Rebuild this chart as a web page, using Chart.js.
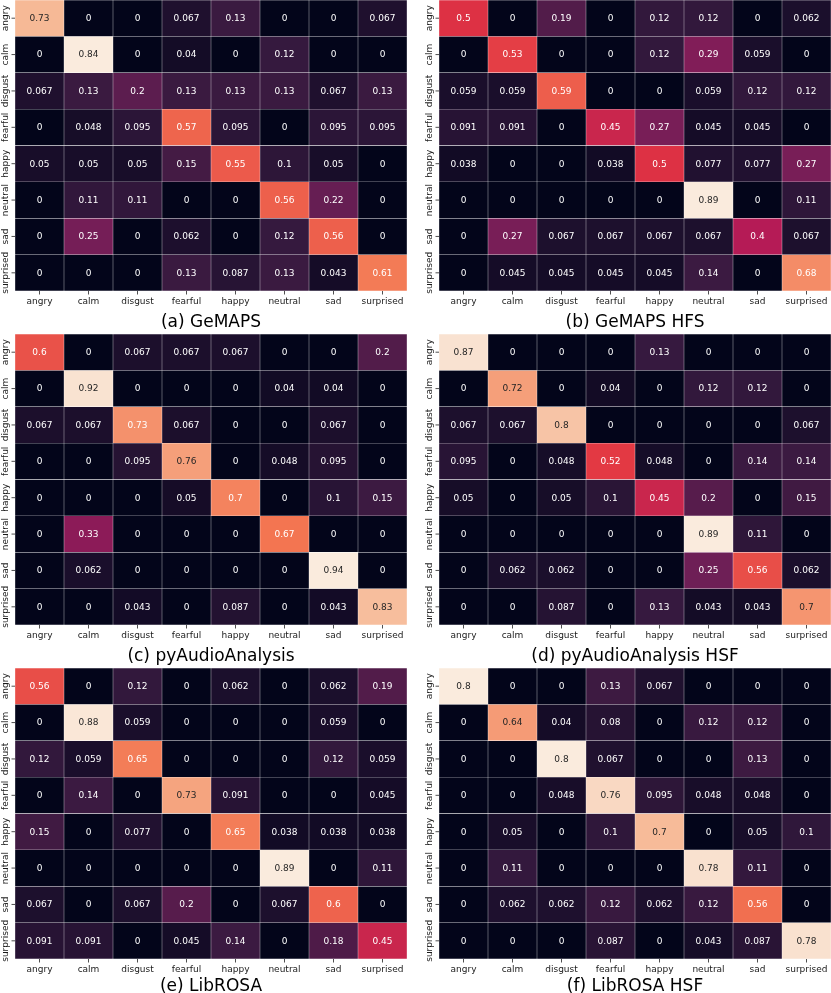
<!DOCTYPE html>
<html>
<head>
<meta charset="utf-8">
<script src="https://cdn.jsdelivr.net/npm/chart.js@4.4.0/dist/chart.umd.min.js"></script>
<style>
  body { margin: 0; background: #fff; }
  #fig { position: relative; width: 831px; height: 993px; overflow: hidden; font-family: "DejaVu Sans", sans-serif; }
  .panel { position: absolute; }
  .caption { position: absolute; font-size: 17px; line-height: 20px; color: #000; white-space: nowrap; transform: translateX(-50%); }
</style>
</head>
<body>
<div id="fig"></div>
<script>
const emotions = ["angry", "calm", "disgust", "fearful", "happy", "neutral", "sad", "surprised"];

// rows = true class, columns = predicted class
const gemaps = [
  [0.73, 0, 0, 0.067, 0.13, 0, 0, 0.067],
  [0, 0.84, 0, 0.04, 0, 0.12, 0, 0],
  [0.067, 0.13, 0.2, 0.13, 0.13, 0.13, 0.067, 0.13],
  [0, 0.048, 0.095, 0.57, 0.095, 0, 0.095, 0.095],
  [0.05, 0.05, 0.05, 0.15, 0.55, 0.1, 0.05, 0],
  [0, 0.11, 0.11, 0, 0, 0.56, 0.22, 0],
  [0, 0.25, 0, 0.062, 0, 0.12, 0.56, 0],
  [0, 0, 0, 0.13, 0.087, 0.13, 0.043, 0.61]
];
const gemapsHfs = [
  [0.5, 0, 0.19, 0, 0.12, 0.12, 0, 0.062],
  [0, 0.53, 0, 0, 0.12, 0.29, 0.059, 0],
  [0.059, 0.059, 0.59, 0, 0, 0.059, 0.12, 0.12],
  [0.091, 0.091, 0, 0.45, 0.27, 0.045, 0.045, 0],
  [0.038, 0, 0, 0.038, 0.5, 0.077, 0.077, 0.27],
  [0, 0, 0, 0, 0, 0.89, 0, 0.11],
  [0, 0.27, 0.067, 0.067, 0.067, 0.067, 0.4, 0.067],
  [0, 0.045, 0.045, 0.045, 0.045, 0.14, 0, 0.68]
];
const pyAudio = [
  [0.6, 0, 0.067, 0.067, 0.067, 0, 0, 0.2],
  [0, 0.92, 0, 0, 0, 0.04, 0.04, 0],
  [0.067, 0.067, 0.73, 0.067, 0, 0, 0.067, 0],
  [0, 0, 0.095, 0.76, 0, 0.048, 0.095, 0],
  [0, 0, 0, 0.05, 0.7, 0, 0.1, 0.15],
  [0, 0.33, 0, 0, 0, 0.67, 0, 0],
  [0, 0.062, 0, 0, 0, 0, 0.94, 0],
  [0, 0, 0.043, 0, 0.087, 0, 0.043, 0.83]
];
const pyAudioHsf = [
  [0.87, 0, 0, 0, 0.13, 0, 0, 0],
  [0, 0.72, 0, 0.04, 0, 0.12, 0.12, 0],
  [0.067, 0.067, 0.8, 0, 0, 0, 0, 0.067],
  [0.095, 0, 0.048, 0.52, 0.048, 0, 0.14, 0.14],
  [0.05, 0, 0.05, 0.1, 0.45, 0.2, 0, 0.15],
  [0, 0, 0, 0, 0, 0.89, 0.11, 0],
  [0, 0.062, 0.062, 0, 0, 0.25, 0.56, 0.062],
  [0, 0, 0.087, 0, 0.13, 0.043, 0.043, 0.7]
];
const librosa = [
  [0.56, 0, 0.12, 0, 0.062, 0, 0.062, 0.19],
  [0, 0.88, 0.059, 0, 0, 0, 0.059, 0],
  [0.12, 0.059, 0.65, 0, 0, 0, 0.12, 0.059],
  [0, 0.14, 0, 0.73, 0.091, 0, 0, 0.045],
  [0.15, 0, 0.077, 0, 0.65, 0.038, 0.038, 0.038],
  [0, 0, 0, 0, 0, 0.89, 0, 0.11],
  [0.067, 0, 0.067, 0.2, 0, 0.067, 0.6, 0],
  [0.091, 0.091, 0, 0.045, 0.14, 0, 0.18, 0.45]
];
const librosaHsf = [
  [0.8, 0, 0, 0.13, 0.067, 0, 0, 0],
  [0, 0.64, 0.04, 0.08, 0, 0.12, 0.12, 0],
  [0, 0, 0.8, 0.067, 0, 0, 0.13, 0],
  [0, 0, 0.048, 0.76, 0.095, 0.048, 0.048, 0],
  [0, 0.05, 0, 0.1, 0.7, 0, 0.05, 0.1],
  [0, 0.11, 0, 0, 0, 0.78, 0.11, 0],
  [0, 0.062, 0.062, 0.12, 0.062, 0.12, 0.56, 0],
  [0, 0, 0, 0.087, 0, 0.043, 0.087, 0.78]
];

const captions = ["(a) GeMAPS", "(b) GeMAPS HFS", "(c) pyAudioAnalysis", "(d) pyAudioAnalysis HSF", "(e) LibROSA", "(f) LibROSA HSF"];
const matrices = [gemaps, gemapsHfs, pyAudio, pyAudioHsf, librosa, librosaHsf];

// layout
const colLeft = [0, 424];
const rowTop = [0, 334, 668];
const captionY = [311, 645, 975];
const canvasW = 415, canvasH = 321, padL = 15, padR = 8;
const FONT = "DejaVu Sans";

// seaborn "rocket" approximated by its sampled palette
const rocketStops = [
  [3, 5, 26], [53, 25, 62], [112, 31, 87], [173, 23, 89],
  [225, 51, 66], [243, 118, 81], [246, 180, 143], [250, 235, 221]
];

function rocket(t) {
  t = Math.max(0, Math.min(1, t));
  const pos = t * (rocketStops.length - 1);
  const i = Math.min(Math.floor(pos), rocketStops.length - 2);
  const f = pos - i;
  const a = rocketStops[i], b = rocketStops[i + 1];
  return a.map((c, k) => Math.round(c + (b[k] - c) * f));
}

function luminance(rgb) {
  const lin = rgb.map(c => {
    c = c / 255;
    return c <= 0.03928 ? c / 12.92 : Math.pow((c + 0.055) / 1.055, 2.4);
  });
  return 0.2126 * lin[0] + 0.7152 * lin[1] + 0.0722 * lin[2];
}

function fmt2g(v) {
  if (v === 0) return "0";
  return String(parseFloat(v.toPrecision(2)));
}

const cellLabels = {
  id: "cellLabels",
  afterDatasetsDraw(chart, args, opts) {
    const ctx = chart.ctx;
    const m = opts.matrix, vmax = opts.vmax;
    if (!m) return;
    ctx.save();
    ctx.font = `9px "${FONT}"`;
    ctx.textAlign = "center";
    ctx.textBaseline = "middle";
    chart.data.datasets.forEach((ds, r) => {
      chart.getDatasetMeta(r).data.forEach((bar, c) => {
        const v = m[r][c];
        const p = bar.getProps(["x", "y", "base"], true);
        ctx.fillStyle = luminance(rocket(v / vmax)) > 0.408 ? "#262626" : "#ffffff";
        ctx.fillText(fmt2g(v), p.x, (p.y + p.base) / 2 + 0.5);
      });
    });
    ctx.restore();
  }
};

const rowLabels = {
  id: "rowLabels",
  afterDraw(chart) {
    const ctx = chart.ctx;
    const y = chart.scales.y;
    const left = chart.chartArea.left;
    ctx.save();
    ctx.strokeStyle = "#222";
    ctx.lineWidth = 0.8;
    ctx.fillStyle = "#1a1a1a";
    ctx.font = `9px "${FONT}"`;
    ctx.textAlign = "center";
    ctx.textBaseline = "middle";
    emotions.forEach((name, r) => {
      const py = y.getPixelForValue(r + 0.5);
      ctx.beginPath();
      ctx.moveTo(left - 3.5, py);
      ctx.lineTo(left, py);
      ctx.stroke();
      ctx.save();
      ctx.translate(left - 9.5, py);
      ctx.rotate(-Math.PI / 2);
      ctx.fillText(name, 0, 0);
      ctx.restore();
    });
    ctx.restore();
  }
};

const fig = document.getElementById("fig");

matrices.forEach((m, k) => {
  const col = k % 2, row = Math.floor(k / 2);
  const vmax = Math.max(...m.flat());

  const wrap = document.createElement("div");
  wrap.className = "panel";
  wrap.style.left = colLeft[col] + "px";
  wrap.style.top = rowTop[row] + "px";
  const canvas = document.createElement("canvas");
  canvas.width = canvasW;
  canvas.height = canvasH;
  wrap.appendChild(canvas);
  fig.appendChild(wrap);

  const cap = document.createElement("div");
  cap.className = "caption";
  cap.textContent = captions[k];
  cap.style.left = (colLeft[col] + padL + (canvasW - padL - padR) / 2) + "px";
  cap.style.top = captionY[row] + "px";
  fig.appendChild(cap);

  new Chart(canvas, {
    type: "bar",
    data: {
      labels: emotions,
      datasets: m.map((rowVals, r) => ({
        data: rowVals.map(() => [r, r + 1]),
        backgroundColor: rowVals.map(v => "rgb(" + rocket(v / vmax).join(",") + ")"),
        borderColor: "rgba(255,255,255,0.035)",
        borderWidth: 0.5,
        borderSkipped: false,
        grouped: false,
        barPercentage: 1,
        categoryPercentage: 1
      }))
    },
    options: {
      responsive: false,
      animation: false,
      layout: { padding: { left: padL, right: padR, top: 0, bottom: 0 } },
      plugins: {
        legend: { display: false },
        tooltip: { enabled: false },
        cellLabels: { matrix: m, vmax: vmax }
      },
      scales: {
        x: {
          grid: { display: true, drawOnChartArea: false, drawTicks: true, tickLength: 3.5, offset: false, color: "#222", lineWidth: 0.8 },
          border: { display: false },
          ticks: { color: "#1a1a1a", font: { family: FONT, size: 9 }, padding: 2, maxRotation: 0, autoSkip: false },
          afterFit(scale) { scale.height = canvasH - 291; }
        },
        y: { display: false, min: 0, max: 8, reverse: true }
      }
    },
    plugins: [cellLabels, rowLabels]
  });
});
</script>
</body>
</html>
